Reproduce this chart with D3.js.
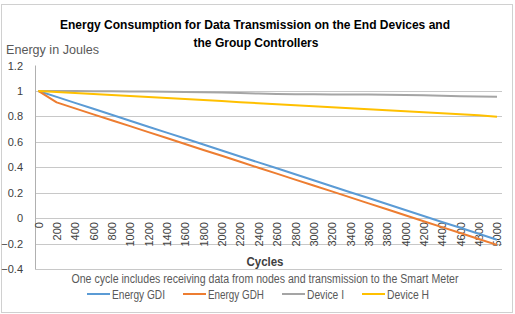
<!DOCTYPE html>
<html>
<head>
<meta charset="utf-8">
<script src="https://cdn.jsdelivr.net/npm/d3@7"></script>
<style>
  body { margin: 0; background: #fff; }
  text { font-family: "Liberation Sans", Arial, sans-serif; }
</style>
</head>
<body>
<div id="chart"></div>
<script>
// x categories (cycles)
const cycles = [0, 200, 400, 600, 800, 1000, 1200, 1400, 1600, 1800, 2000, 2200, 2400,
                2600, 2800, 3000, 3200, 3400, 3600, 3800, 4000, 4200, 4400, 4600, 4800, 5000];

const energyGDI = [1.000, 0.953, 0.906, 0.860, 0.813, 0.766, 0.719, 0.672, 0.626, 0.579, 0.532, 0.485, 0.438,
                   0.392, 0.345, 0.298, 0.251, 0.204, 0.158, 0.111, 0.064, 0.017, -0.030, -0.076, -0.123, -0.170];
const energyGDH = [1.000, 0.910, 0.863, 0.816, 0.770, 0.723, 0.676, 0.630, 0.583, 0.536, 0.490, 0.443, 0.396,
                   0.350, 0.303, 0.256, 0.210, 0.163, 0.116, 0.070, 0.023, -0.024, -0.071, -0.117, -0.164, -0.210];
const deviceI = [1.000, 0.999, 0.999, 0.998, 0.997, 0.996, 0.995, 0.994, 0.992, 0.990, 0.987, 0.983, 0.979,
                 0.976, 0.974, 0.973, 0.972, 0.972, 0.972, 0.971, 0.969, 0.966, 0.962, 0.958, 0.956, 0.955];
const deviceH = [1.000, 0.992, 0.984, 0.976, 0.968, 0.960, 0.952, 0.944, 0.936, 0.928, 0.920, 0.912, 0.904,
                 0.896, 0.888, 0.880, 0.872, 0.864, 0.856, 0.848, 0.840, 0.832, 0.824, 0.816, 0.808, 0.797];

const yTicks = [1.2, 1, 0.8, 0.6, 0.4, 0.2, 0, -0.2, -0.4];

const seriesNames = ["Energy GDI", "Energy GDH", "Device I", "Device H"];
const seriesColors = ["#5b9bd5", "#ed7d31", "#a5a5a5", "#ffc000"];
const seriesValues = [energyGDI, energyGDH, deviceI, deviceH];

const svgWidth = 515;
const svgHeight = 314;
const plot = { left: 35, right: 502, top: 65.5, bottom: 269 };

const svg = d3.select("#chart")
              .append("svg")
              .attr("width", svgWidth)
              .attr("height", svgHeight);

svg.append("rect")
   .attr("x", 1.5).attr("y", 4.5)
   .attr("width", 511).attr("height", 308)
   .attr("fill", "#fff")
   .attr("stroke", "#d0d0d0");

const x = d3.scalePoint()
            .domain(cycles)
            .range([38.3, 497]);

const y = d3.scaleLinear()
            .domain([-0.4, 1.2])
            .range([plot.bottom, plot.top]);

// gridlines (none at the top value)
svg.append("g")
   .selectAll("line")
   .data(yTicks.filter(d => d < 1.2))
   .join("line")
   .attr("x1", plot.left)
   .attr("x2", plot.right)
   .attr("y1", d => Math.round(y(d)) + 0.5)
   .attr("y2", d => Math.round(y(d)) + 0.5)
   .attr("stroke", "#c8c8c8")
   .attr("stroke-width", 1);

// left axis line
svg.append("line")
   .attr("x1", plot.left + 0.5).attr("x2", plot.left + 0.5)
   .attr("y1", plot.top).attr("y2", plot.bottom)
   .attr("stroke", "#b0b0b0");

// y axis labels
const yAxis = svg.append("g")
   .attr("transform", `translate(23,0)`)
   .call(d3.axisLeft(y).tickValues(yTicks).tickSize(0).tickPadding(0)
           .tickFormat(d => d3.format("")(Math.round(d * 10) / 10)));
yAxis.select(".domain").remove();
yAxis.selectAll("text")
     .attr("font-size", 11)
     .attr("font-family", "Liberation Sans, Arial, sans-serif")
     .attr("fill", "#404040");

// x axis labels, rotated
const xAxis = svg.append("g")
   .attr("transform", `translate(0,${y(0)})`)
   .call(d3.axisBottom(x).tickSize(0));
xAxis.select(".domain").remove();
xAxis.selectAll("text")
     .attr("font-size", 11)
     .attr("font-family", "Liberation Sans, Arial, sans-serif")
     .attr("fill", "#404040")
     .attr("transform", "rotate(-90)")
     .attr("text-anchor", "end")
     .attr("x", -4)
     .attr("y", 0)
     .attr("dy", "0.35em");

// series lines
const line = d3.line()
               .x((d, i) => x(cycles[i]))
               .y(d => y(d));

svg.append("g")
   .selectAll("path")
   .data(seriesValues)
   .join("path")
   .attr("d", d => line(d))
   .attr("fill", "none")
   .attr("stroke", (d, i) => seriesColors[i])
   .attr("stroke-width", 2)
   .attr("stroke-linejoin", "round");

// titles
const title = svg.append("text")
   .attr("text-anchor", "middle")
   .attr("font-family", "Lato, 'Open Sans', sans-serif")
   .attr("font-weight", "bold")
   .attr("font-size", 13)
   .attr("fill", "#000");
title.append("tspan").attr("x", 255).attr("y", 29)
     .attr("textLength", 390).attr("lengthAdjust", "spacingAndGlyphs")
     .text("Energy Consumption  for Data Transmission  on the End Devices and");
title.append("tspan").attr("x", 256).attr("y", 47)
     .attr("textLength", 125).attr("lengthAdjust", "spacingAndGlyphs")
     .text("the Group Controllers");

svg.append("text")
   .attr("x", 6).attr("y", 54)
   .attr("font-size", 12)
   .attr("fill", "#595959")
   .attr("textLength", 93).attr("lengthAdjust", "spacingAndGlyphs")
   .text("Energy in Joules");

svg.append("text")
   .attr("x", 265).attr("y", 266)
   .attr("text-anchor", "middle")
   .attr("font-family", "Lato, 'Open Sans', sans-serif")
   .attr("font-weight", "bold")
   .attr("font-size", 12)
   .attr("fill", "#404040")
   .attr("textLength", 37).attr("lengthAdjust", "spacingAndGlyphs")
   .text("Cycles");

svg.append("text")
   .attr("x", 265).attr("y", 283)
   .attr("text-anchor", "middle")
   .attr("font-size", 12)
   .attr("fill", "#595959")
   .attr("textLength", 387).attr("lengthAdjust", "spacingAndGlyphs")
   .text("One cycle includes receiving data from nodes and transmission to the Smart Meter");

// legend
const legendX = [87, 183, 282, 362];
const legendW = [53, 56, 37, 42];
const legend = svg.append("g")
   .selectAll("g")
   .data(seriesNames)
   .join("g")
   .attr("transform", (d, i) => `translate(${legendX[i]},294)`);
legend.append("line")
      .attr("x1", 0).attr("x2", 23)
      .attr("y1", 0).attr("y2", 0)
      .attr("stroke", (d, i) => seriesColors[i])
      .attr("stroke-width", 2);
legend.append("text")
      .attr("x", 25).attr("y", 4.5)
      .attr("font-size", 12)
      .attr("fill", "#595959")
      .attr("textLength", (d, i) => legendW[i]).attr("lengthAdjust", "spacingAndGlyphs")
      .text(d => d);
</script>
</body>
</html>
